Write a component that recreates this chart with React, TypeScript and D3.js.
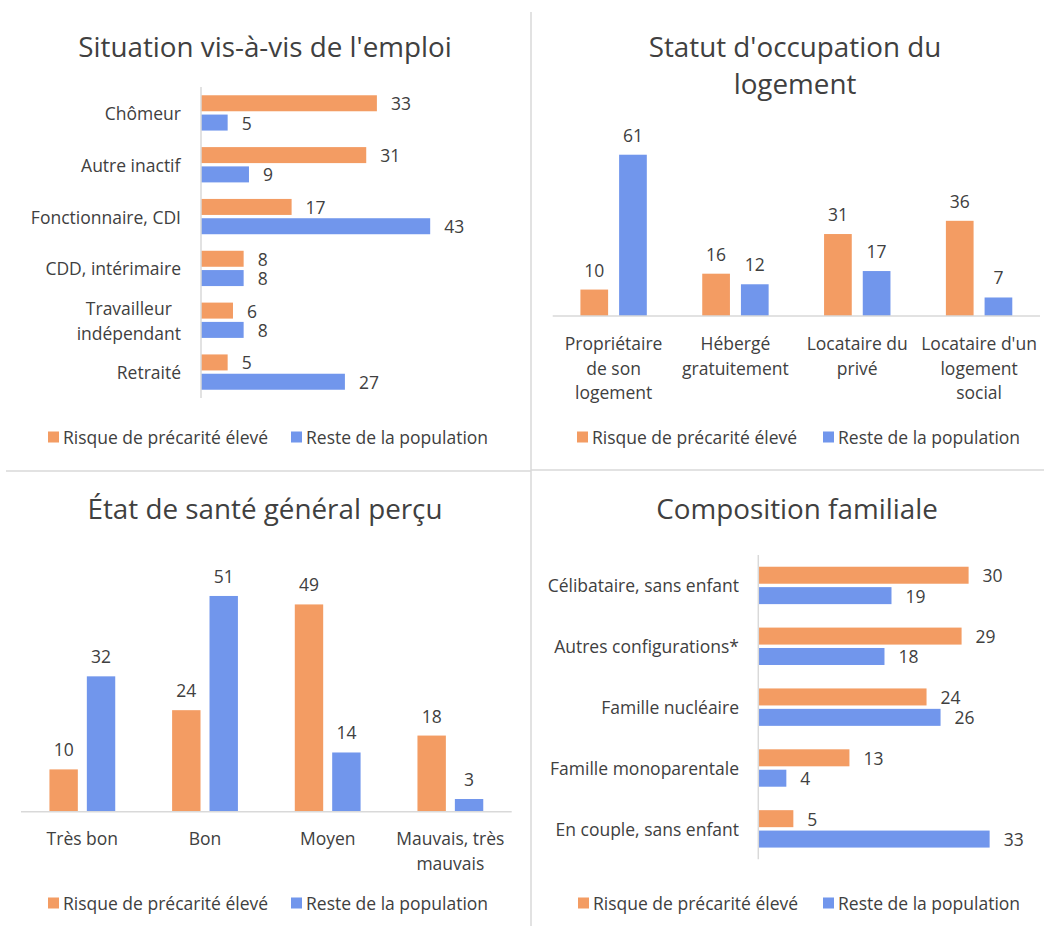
import React from "react";
import * as d3 from "d3";

// ---------- DATA ----------
const seriesNames = ["Risque de précarité élevé", "Reste de la population"];

const emploiTitle = ["Situation vis-à-vis de l'emploi"];
const emploiLabels = [["Chômeur"], ["Autre inactif"], ["Fonctionnaire, CDI"], ["CDD, intérimaire"], ["Travailleur", "indépendant"], ["Retraité"]];
const emploiRisque = [33, 31, 17, 8, 6, 5];
const emploiReste = [5, 9, 43, 8, 8, 27];

const logementTitle = ["Statut d'occupation du", "logement"];
const logementLabels = [["Propriétaire", "de son", "logement"], ["Hébergé", "gratuitement"], ["Locataire du", "privé"], ["Locataire d'un", "logement", "social"]];
const logementRisque = [10, 16, 31, 36];
const logementReste = [61, 12, 17, 7];

const santeTitle = ["État de santé général perçu"];
const santeLabels = [["Très bon"], ["Bon"], ["Moyen"], ["Mauvais, très", "mauvais"]];
const santeRisque = [10, 24, 49, 18];
const santeReste = [32, 51, 14, 3];

const familleTitle = ["Composition familiale"];
const familleLabels = [["Célibataire, sans enfant"], ["Autres configurations*"], ["Famille nucléaire"], ["Famille monoparentale"], ["En couple, sans enfant"]];
const familleRisque = [30, 29, 24, 13, 5];
const familleReste = [19, 18, 26, 4, 33];

// ---------- STYLE ----------
const ORANGE = "#F39C63";
const BLUE = "#7196EC";
const TEXT = "#404040";
const GRID = "#D9D9D9";
const FONT = "'Open Sans', sans-serif";
const LABEL_SIZE = 17.5;
const TITLE_SIZE = 27.8;

function Title({ lines, cx, y0, lh }: { lines: string[]; cx: number; y0: number; lh: number }) {
  return (
    <text textAnchor="middle" fontSize={TITLE_SIZE} fill={TEXT} fontFamily={FONT}>
      {lines.map((l, i) => (
        <tspan key={i} x={cx} y={y0 + i * lh}>{l}</tspan>
      ))}
    </text>
  );
}

function Legend({ x1, x2, y }: { x1: number; x2: number; y: number }) {
  const xs = [x1, x2];
  return (
    <g fontFamily={FONT} fontSize={LABEL_SIZE} fill={TEXT}>
      {seriesNames.map((n, i) => (
        <g key={n}>
          <rect x={xs[i]} y={y - 5.5} width={11} height={11} fill={i === 0 ? ORANGE : BLUE} />
          <text x={xs[i] + 15} y={y} dominantBaseline="central">{n}</text>
        </g>
      ))}
    </g>
  );
}

function VBars(props: {
  labels: string[][]; a: number[]; b: number[]; x0: number; x1: number; axisY: number;
  dmax: number; ppu: number; barW: number; gap: number; labelY: number;
}) {
  const { labels, a, b, x0, x1, axisY, dmax, ppu, barW, gap, labelY } = props;
  const y = d3.scaleLinear().domain([0, dmax]).range([axisY, axisY - dmax * ppu]);
  const x = d3.scaleBand<number>().domain(d3.range(labels.length)).range([x0, x1]);
  const lh = 24.5;
  return (
    <g fontFamily={FONT} fontSize={LABEL_SIZE} fill={TEXT}>
      {labels.map((lab, i) => {
        const c = (x(i) as number) + x.bandwidth() / 2;
        const xa = c - gap / 2 - barW;
        const xb = c + gap / 2;
        return (
          <g key={i}>
            <rect x={xa} y={y(a[i])} width={barW} height={y(0) - y(a[i])} fill={ORANGE} />
            <rect x={xb} y={y(b[i])} width={barW} height={y(0) - y(b[i])} fill={BLUE} />
            <text x={xa + barW / 2} y={y(a[i]) - 20} textAnchor="middle" dominantBaseline="central">{a[i]}</text>
            <text x={xb + barW / 2} y={y(b[i]) - 20} textAnchor="middle" dominantBaseline="central">{b[i]}</text>
            <text textAnchor="middle" dominantBaseline="central">
              {lab.map((l, j) => (
                <tspan key={j} x={c} y={labelY + j * lh}>{l}</tspan>
              ))}
            </text>
          </g>
        );
      })}
      <line x1={x0} x2={x1} y1={axisY} y2={axisY} stroke={GRID} strokeWidth={1.5} />
    </g>
  );
}

// Horizontal bars with right-aligned category label blocks (lines centred within the block)
function HBars(props: {
  labels: string[][]; a: number[]; b: number[]; axisX: number; y0: number; y1: number;
  dmax: number; ppu: number; barH: number; gap: number; labelX: number;
}) {
  const { labels, a, b, axisX, y0, y1, dmax, ppu, barH, gap, labelX } = props;
  const x = d3.scaleLinear().domain([0, dmax]).range([axisX, axisX + dmax * ppu]);
  const y = d3.scaleBand<number>().domain(d3.range(labels.length)).range([y0, y1]);
  const lh = 25;
  const refs = React.useRef<(SVGTextElement | null)[]>([]);
  const [widths, setWidths] = React.useState<number[]>([]);
  React.useLayoutEffect(() => {
    setWidths(refs.current.map((t) => (t ? t.getBBox().width : 0)));
  }, []);
  return (
    <g fontFamily={FONT} fontSize={LABEL_SIZE} fill={TEXT}>
      {labels.map((lab, i) => {
        const c = (y(i) as number) + y.bandwidth() / 2;
        const ya = c - gap / 2 - barH;
        const yb = c + gap / 2;
        const w = widths[i] || 0;
        const cx = labelX - w / 2;
        return (
          <g key={i}>
            <rect x={x(0)} y={ya} width={x(a[i]) - x(0)} height={barH} fill={ORANGE} />
            <rect x={x(0)} y={yb} width={x(b[i]) - x(0)} height={barH} fill={BLUE} />
            <text x={x(a[i]) + 14} y={ya + barH / 2} dominantBaseline="central">{a[i]}</text>
            <text x={x(b[i]) + 14} y={yb + barH / 2} dominantBaseline="central">{b[i]}</text>
            <text ref={(el) => { refs.current[i] = el; }} textAnchor="middle" dominantBaseline="central">
              {lab.map((l, j) => (
                <tspan key={j} x={cx} y={c + (j - (lab.length - 1) / 2) * lh}>{l}</tspan>
              ))}
            </text>
          </g>
        );
      })}
      <line x1={axisX} x2={axisX} y1={y0} y2={y1} stroke={GRID} strokeWidth={1.5} />
    </g>
  );
}

export default function App() {
  return (
    <svg width={1044} height={926} style={{ position: "absolute", left: 0, top: 0, background: "#fff" }}>
      <rect width={1044} height={926} fill="#fff" />
      {/* dividers */}
      <line x1={531} x2={531} y1={12} y2={926} stroke={GRID} strokeWidth={1.5} />
      <line x1={6} x2={531} y1={471} y2={471} stroke={GRID} strokeWidth={1.5} />
      <line x1={531} x2={1044} y1={470} y2={470} stroke={GRID} strokeWidth={1.5} />

      <Title lines={emploiTitle} cx={265} y0={57} lh={37} />
      <HBars labels={emploiLabels} a={emploiRisque} b={emploiReste} axisX={201} y0={87} y1={398}
        dmax={50} ppu={5.33} barH={16} gap={3.3} labelX={181} />
      <Legend x1={48} x2={291} y={437} />

      <Title lines={logementTitle} cx={795} y0={57} lh={37} />
      <VBars labels={logementLabels} a={logementRisque} b={logementReste} x0={552.7} x1={1040} axisY={316}
        dmax={70} ppu={2.644} barW={27.7} gap={11} labelY={343} />
      <Legend x1={577} x2={823} y={437} />

      <Title lines={santeTitle} cx={265} y0={519} lh={37} />
      <VBars labels={santeLabels} a={santeRisque} b={santeReste} x0={21} x1={511.7} axisY={811.7}
        dmax={60} ppu={4.23} barW={28.4} gap={9} labelY={838} />
      <Legend x1={48} x2={291} y={903} />

      <Title lines={familleTitle} cx={797} y0={519} lh={37} />
      <HBars labels={familleLabels} a={familleRisque} b={familleReste} axisX={758.3} y0={555} y1={859.3}
        dmax={35} ppu={7.01} barH={17} gap={3.4} labelX={739} />
      <Legend x1={578} x2={823} y={903} />
    </svg>
  );
}
